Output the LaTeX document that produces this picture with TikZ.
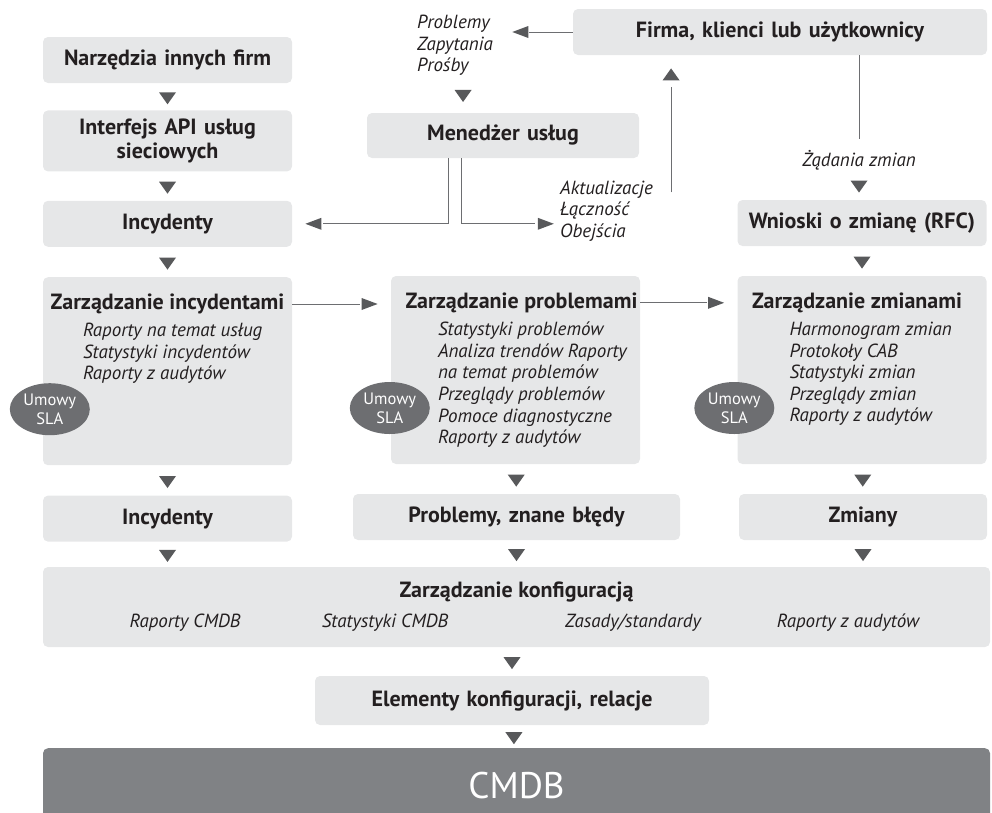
\documentclass[tikz,border=0pt]{standalone}
\usepackage{fontspec}
\setmainfont{PT Sans}
\usetikzlibrary{shapes.geometric,positioning}

\definecolor{boxgray}{HTML}{E6E7E8}
\definecolor{tipgray}{HTML}{58595B}
\definecolor{linegray}{HTML}{6D6E71}
\definecolor{slagray}{HTML}{6D6E71}
\definecolor{dbgray}{HTML}{808285}
\definecolor{inkgray}{HTML}{231F20}

\begin{document}
\begin{tikzpicture}[
    x=1pt, y=-1pt,
    box/.style={rectangle, rounded corners=5pt, fill=boxgray, text=inkgray, inner sep=0pt, minimum height=46pt, text width=249pt, align=center, font=\bfseries\fontsize{22}{24}\selectfont},
    bigbox/.style={box, minimum height=188pt},
    head/.style={inner sep=0pt, text=inkgray, font=\bfseries\fontsize{22}{24}\selectfont},
    items/.style={inner sep=0pt, text=inkgray, align=left, font=\itshape\fontsize{19}{21.6}\selectfont},
    sla/.style={ellipse, fill=slagray, text=white, minimum width=80pt, minimum height=52pt, inner sep=0pt, align=center, font=\fontsize{16.5}{19}\selectfont},
    tri/.style={isosceles triangle, isosceles triangle stretches, fill=tipgray, inner sep=0pt},
    dtri/.style={tri, minimum width=17pt, minimum height=12pt, shape border rotate=-90},
    utri/.style={tri, minimum width=17pt, minimum height=12pt, shape border rotate=90},
    rtri/.style={tri, minimum width=12pt, minimum height=16pt, shape border rotate=0},
    ltri/.style={tri, minimum width=12pt, minimum height=16pt, shape border rotate=180},
    plain/.style={draw=linegray, line width=0.9pt}
]
\useasboundingbox (0,0) rectangle (992,812);

% left column
\node[box] (tools) at (167.5,60) {Narzędzia innych firm};
\node[box, minimum height=61pt, below=27pt of tools] (api) {Interfejs API usług\\sieciowych};
\node[box, below=29pt of api] (inc) {Incydenty};
\node[bigbox, below=30pt of inc] (incmgmt) {};
\node[box, below=30pt of incmgmt] (incout) {Incydenty};

% top middle and right
\node[items, anchor=north west] (asks) at (417,15) {Problemy\\Zapytania\\Prośby};
\node[box, text width=272pt, minimum height=45pt] (desk) at (503,135.5) {Menedżer usług};
\node[box, text width=414pt] (users) at (780,32) {Firma, klienci lub użytkownicy};
\node[items, anchor=west] (fixes) at (560,211) {Aktualizacje\\Łączność\\Obejścia};
\node[items] (rfcask) at (859,160) {Żądania zmian};
\node[box] (rfc) at (862,223) {Wnioski o zmianę (RFC)};

% process boxes
\node[bigbox] (probmgmt) at (515.5,370) {};
\node[bigbox] (chgmgmt) at (862,370) {};

\node[head] (incT) at ([yshift=-27pt]incmgmt.north) {Zarządzanie incydentami};
\node[head] (probT) at ([xshift=6pt,yshift=-27pt]probmgmt.north) {Zarządzanie problemami};
\node[head] (chgT) at ([xshift=-5pt,yshift=-27pt]chgmgmt.north) {Zarządzanie zmianami};

\node[items, anchor=north west] (incL) at ([xshift=40pt,yshift=-46pt]incmgmt.north west)
  {Raporty na temat usług\\Statystyki incydentów\\Raporty z audytów};
\node[items, anchor=north west] (probL) at ([xshift=47pt,yshift=-46pt]probmgmt.north west)
  {Statystyki problemów\\Analiza trendów Raporty\\na temat problemów\\Przeglądy problemów\\Pomoce diagnostyczne\\Raporty z audytów};
\node[items, anchor=north west] (chgL) at ([xshift=52pt,yshift=-46pt]chgmgmt.north west)
  {Harmonogram zmian\\Protokoły CAB\\Statystyki zmian\\Przeglądy zmian\\Raporty z audytów};

\node[sla] (incSLA) at ([xshift=7pt,yshift=-38pt]incmgmt.west) {Umowy\\SLA};
\node[sla] (probSLA) at ([xshift=-1pt,yshift=-38pt]probmgmt.west) {Umowy\\SLA};
\node[sla] (chgSLA) at ([xshift=-3pt,yshift=-38pt]chgmgmt.west) {Umowy\\SLA};

% outputs
\node[box, text width=327pt] (known) at (516.5,517) {Problemy, znane błędy};
\node[box, text width=248pt] (chg) at (863,517) {Zmiany};

% configuration
\node[box, text width=947pt, minimum height=80pt] (cfg) at (516.5,607) {};
\node[head] (cfgT) at ([yshift=-25pt]cfg.north) {Zarządzanie konfiguracją};
\node[items] (cmdbrep) at (185,623) {Raporty CMDB};
\node[items] (cmdbstat) at (385,623) {Statystyki CMDB};
\node[items] (rules) at (633,623) {Zasady/standardy};
\node[items] (audit) at (848,623) {Raporty z audytów};

\node[box, text width=394pt, minimum height=49pt] (ci) at (512,700.5) {Elementy konfiguracji, relacje};
\node[box, text width=947pt, minimum height=74pt, fill=dbgray, text=white, font=\fontsize{37}{40}\selectfont, anchor=north] (db) at (516.5,748) {CMDB};

% triangles between boxes
\path (tools) -- node[dtri]{} (api);
\path (api) -- node[dtri]{} (inc);
\path (inc) -- node[dtri]{} (incmgmt);
\path (incmgmt) -- node[dtri]{} (incout);
\path ([xshift=8pt]asks.south) -- node[dtri]{} ([xshift=8pt]asks.south |- desk.north);
\path (rfcask) -- node[dtri]{} (rfcask |- rfc.north);
\path (rfc) -- node[dtri]{} (chgmgmt);
\path (probmgmt) -- node[dtri]{} (known);
\path (chgmgmt) -- node[dtri]{} (chg);
\path (incout.south) -- node[dtri]{} (incout.south |- cfg.north);
\path (known.south) -- node[dtri]{} (known.south |- cfg.north);
\path (chg.south) -- node[dtri]{} (chg.south |- cfg.north);
\path (cfg.south -| ci) -- node[dtri]{} (ci.north);
\path (ci) -- node[dtri]{} (db);

% connectors
\draw[plain, shorten >=31pt] (incT.east -| incmgmt.east) -- (incT.east -| probmgmt.west)
  node[at end, rtri, anchor=apex, xshift=-12pt] {};
\draw[plain, shorten >=30pt] (probT.east -| probmgmt.east) -- (probT.east -| chgmgmt.west)
  node[at end, rtri, anchor=apex, xshift=-12pt] {};
\draw[plain, shorten >=31pt] ([xshift=-55pt]desk.south) |- (inc.east)
  node[at end, ltri, anchor=apex, xshift=12pt] {};
\draw[plain, shorten >=25pt] ([xshift=-42pt]desk.south) |- (inc.east -| fixes.west)
  node[at end, rtri, anchor=apex, xshift=-5pt] {};
\draw[plain, shorten >=32pt] ([xshift=18pt,yshift=-12pt]fixes.north east) -- ([xshift=18pt]fixes.north east |- users.south)
  node[at end, utri, anchor=apex, yshift=-12pt] {};
\draw[plain, shorten >=36pt] (users.west) -- (users.west -| asks.east)
  node[at end, ltri, anchor=apex, xshift=18pt] {};
\draw[plain, shorten >=11pt] (users.south -| rfcask) -- (rfcask.north);
\end{tikzpicture}
\end{document}
